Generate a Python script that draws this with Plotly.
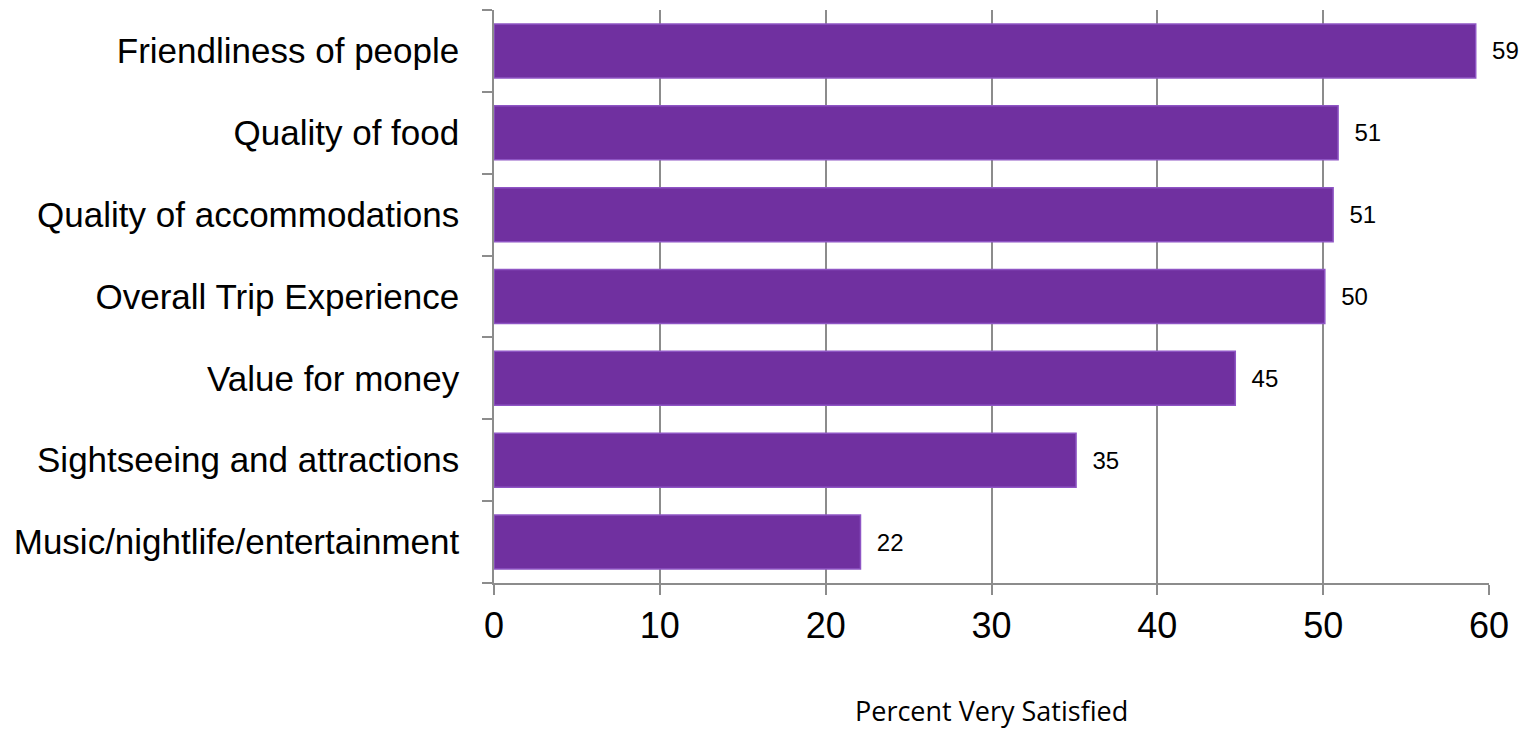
import plotly.graph_objects as go

categories = ["Music/nightlife/entertainment", "Sightseeing and attractions", "Value for money",
              "Overall Trip Experience", "Quality of accommodations", "Quality of food",
              "Friendliness of people"]
values = [22.1, 35.1, 44.7, 50.1, 50.6, 50.9, 59.2]
labels = ["22", "35", "45", "50", "51", "51", "59"]
x_ticks = [0, 10, 20, 30, 40, 50, 60]

fig = go.Figure(go.Bar(
    x=values, y=categories, orientation="h",
    marker=dict(color="#7030A0", line=dict(color="#8E55C4", width=1.5)),
    text=["  " + t for t in labels], textposition="outside", cliponaxis=False,
    textfont=dict(family="Liberation Sans, Arial", size=24, color="#000000"),
))

fig.update_layout(
    width=1524, height=731,
    margin=dict(l=494, r=35, t=10, b=148),
    paper_bgcolor="white", plot_bgcolor="white",
    bargap=0.34, showlegend=False,
    font=dict(family="Liberation Sans, Arial", color="#000000"),
)
fig.update_xaxes(
    range=[0, 60], tickvals=x_ticks, ticktext=[str(v) for v in x_ticks],
    showgrid=True, gridcolor="#8C8C8C", gridwidth=1.5,
    showline=True, linecolor="#8C8C8C", linewidth=1.5,
    ticks="outside", ticklen=10, tickcolor="#8C8C8C", tickwidth=1.5,
    tickfont=dict(size=36, family="Liberation Sans, Arial"), zeroline=False,
)
fig.update_yaxes(
    categoryorder="array", categoryarray=categories,
    showline=True, linecolor="#8C8C8C", linewidth=1.5,
    ticks="outside", tickson="boundaries", ticklen=10, tickcolor="#8C8C8C", tickwidth=1.5,
    ticklabelstandoff=26,
    tickfont=dict(size=35, family="Liberation Sans, Arial"), showgrid=False,
)
fig.add_annotation(
    text="Percent Very Satisfied", xref="paper", yref="paper", x=0.5, y=-0.222,
    xanchor="center", yanchor="middle", showarrow=False,
    font=dict(size=27, family="Open Sans, Noto Sans", color="#000000"),
)
fig.write_html(
    "out.html",
    config={"displayModeBar": False},
    post_script="document.body.style.margin='0';document.body.style.overflow='hidden';",
)
